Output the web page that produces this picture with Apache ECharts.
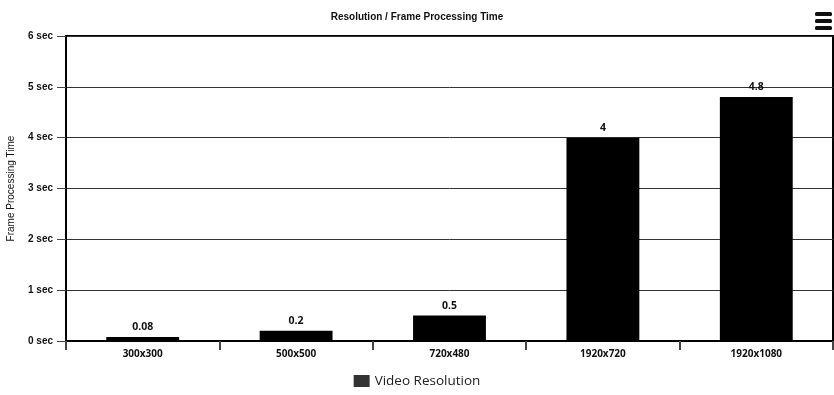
<!DOCTYPE html>
<html>
<head>
<meta charset="utf-8">
<script src="https://cdn.jsdelivr.net/npm/echarts@6/dist/echarts.min.js"></script>
<style>html,body{margin:0;padding:0;background:#fff}#c{width:834px;height:395px}</style>
</head>
<body>
<div id="c"></div>
<script>
const categories = ['300x300', '500x500', '720x480', '1920x720', '1920x1080'];
const values = [0.08, 0.2, 0.5, 4, 4.8];
const seriesName = 'Video Resolution';
const yTicks = [0, 1, 2, 3, 4, 5, 6];

const chart = echarts.init(document.getElementById('c'));
chart.setOption({
  backgroundColor: '#fff',
  animation: false,
  title: {
    text: 'Resolution / Frame Processing Time',
    left: 'center', top: 7,
    textStyle: { fontFamily: 'Liberation Sans', fontSize: 10, fontWeight: 'bold', color: '#111' }
  },
  legend: {
    bottom: 2, left: 'center',
    itemWidth: 16, itemHeight: 12, itemGap: 6,
    icon: 'rect',
    itemStyle: { color: '#333' },
    textStyle: { fontFamily: 'Open Sans', fontSize: 13.5, color: '#222' },
    data: [seriesName]
  },
  grid: {
    left: 66, right: 1, top: 36, bottom: 54,
    outerBoundsMode: 'none',
    show: true, borderColor: '#000', borderWidth: 2, containLabel: false
  },
  xAxis: {
    type: 'category',
    data: categories,
    axisLine: { lineStyle: { color: '#000', width: 2 } },
    axisTick: { show: true, length: 9, lineStyle: { color: '#444', width: 2 } },
    axisLabel: { fontFamily: 'Open Sans', fontSize: 10, fontWeight: 'bold', color: '#111', margin: 8 }
  },
  yAxis: {
    type: 'value',
    min: yTicks[0], max: yTicks[yTicks.length - 1], interval: 1,
    name: 'Frame Processing Time',
    nameLocation: 'middle', nameGap: 50, nameRotate: 90,
    nameTextStyle: { fontFamily: 'Liberation Sans', fontSize: 10, color: '#111' },
    axisLine: { show: true, lineStyle: { color: '#000', width: 2 } },
    axisTick: { show: true, length: 9, lineStyle: { color: '#444', width: 1 } },
    axisLabel: { fontFamily: 'Liberation Sans', fontSize: 10, fontWeight: 'bold', color: '#111', margin: 13,
      formatter: v => v + ' sec' },
    splitLine: { show: true, lineStyle: { color: '#333', width: 1 } }
  },
  series: [{
    name: seriesName,
    type: 'bar',
    data: values,
    barWidth: '47.5%',
    itemStyle: { color: '#000' },
    label: { show: true, position: 'top', distance: 4,
      fontFamily: 'Open Sans', fontSize: 10.5, fontWeight: 'bold', color: '#111' }
  }],
  graphic: [
    { type: 'rect', shape: { x: 815, y: 12, width: 17, height: 4, r: 1.5 }, style: { fill: '#111' } },
    { type: 'rect', shape: { x: 815, y: 19, width: 17, height: 4, r: 1.5 }, style: { fill: '#111' } },
    { type: 'rect', shape: { x: 815, y: 26, width: 17, height: 4, r: 1.5 }, style: { fill: '#111' } }
  ]
});
</script>
</body>
</html>
